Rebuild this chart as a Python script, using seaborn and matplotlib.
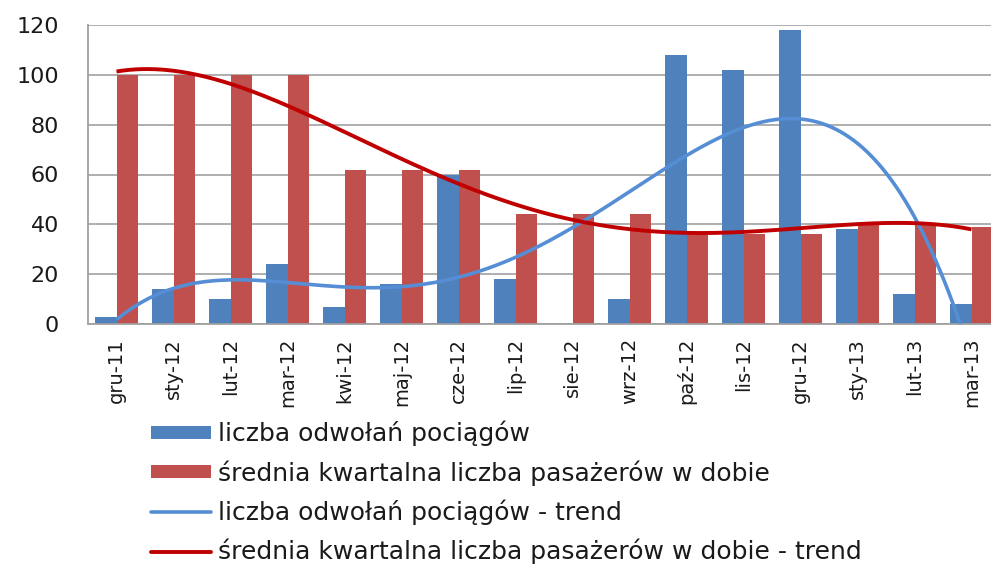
import numpy as np
import pandas as pd
import matplotlib
matplotlib.use("Agg")
import matplotlib.pyplot as plt
import seaborn as sns
from matplotlib.patches import Patch
from matplotlib.lines import Line2D

months = ["gru-11", "sty-12", "lut-12", "mar-12", "kwi-12", "maj-12", "cze-12", "lip-12",
          "sie-12", "wrz-12", "paź-12", "lis-12", "gru-12", "sty-13", "lut-13", "mar-13"]
cancellations = [3, 14, 10, 24, 7, 16, 60, 18, 0, 10, 108, 102, 118, 38, 12, 8]
passengers = [100, 100, 100, 100, 62, 62, 62, 44, 44, 44, 36, 36, 36, 40, 40, 39]

lbl_cancel = "liczba odwołań pociągów"
lbl_pass = "średnia kwartalna liczba pasażerów w dobie"

sns.set_theme(style="white")
plt.rcParams["font.family"] = ["DejaVu Sans"]

df = pd.DataFrame({
    "miesiąc": months * 2,
    "wartość": cancellations + passengers,
    "seria": [lbl_cancel] * len(months) + [lbl_pass] * len(months),
})

W, H = 991, 567
fig = plt.figure(figsize=(W / 100, H / 100), dpi=100)
ax = fig.add_axes([88 / W, (H - 324) / H, 912 / W, 299 / H])

sns.barplot(data=df, x="miesiąc", y="wartość", hue="seria", order=months,
            palette=["#4F81BD", "#C0504D"], width=0.74, gap=0, saturation=1,
            linewidth=0, ax=ax, legend=False, zorder=2)

# fourth-order polynomial trends fitted to each series
xs = np.arange(len(months))
xf = np.linspace(0, len(months) - 1, 400)
trend_c = np.polyval(np.polyfit(xs + 1, cancellations, 4), xf + 1)
trend_p = np.polyval(np.polyfit(xs + 1, passengers, 4), xf + 1)
ax.plot(xf, trend_c, color="#558ED5", lw=2.6, zorder=3, solid_capstyle="butt")
ax.plot(xf, trend_p, color="#C00000", lw=2.8, zorder=3, solid_capstyle="butt")

ax.set_xlim(-0.5, len(months) - 0.5)
ax.set_ylim(0, 120)
ax.set_yticks(range(0, 121, 20))
ax.set_xlabel("")
ax.set_ylabel("")
ax.yaxis.grid(True, color="#A8A8A8", lw=1.3, zorder=0)
ax.set_axisbelow(True)
for side in ["top", "right"]:
    ax.spines[side].set_visible(False)
for side in ["left", "bottom"]:
    ax.spines[side].set_color("#A0A0A0")
    ax.spines[side].set_linewidth(1.3)
ax.tick_params(axis="y", length=0, pad=21, labelsize=16, colors="#1a1a1a")
ax.tick_params(axis="x", length=0, pad=10, labelsize=14, colors="#1a1a1a", labelrotation=90)

handles = [
    Patch(facecolor="#4F81BD", edgecolor="none"),
    Patch(facecolor="#C0504D", edgecolor="none"),
    Line2D([], [], color="#558ED5", lw=2.6),
    Line2D([], [], color="#C00000", lw=2.8),
]
labels = [lbl_cancel, lbl_pass, lbl_cancel + " - trend", lbl_pass + " - trend"]
fig.legend(handles, labels, loc="upper left", bbox_to_anchor=(151 / W, 1 - 421 / H),
           frameon=False, fontsize=18, handlelength=2.4, handleheight=0.42,
           handletextpad=0.3, labelspacing=0.55, borderaxespad=0, borderpad=0,
           labelcolor="#1a1a1a")

fig.savefig("out.png", dpi=100)
